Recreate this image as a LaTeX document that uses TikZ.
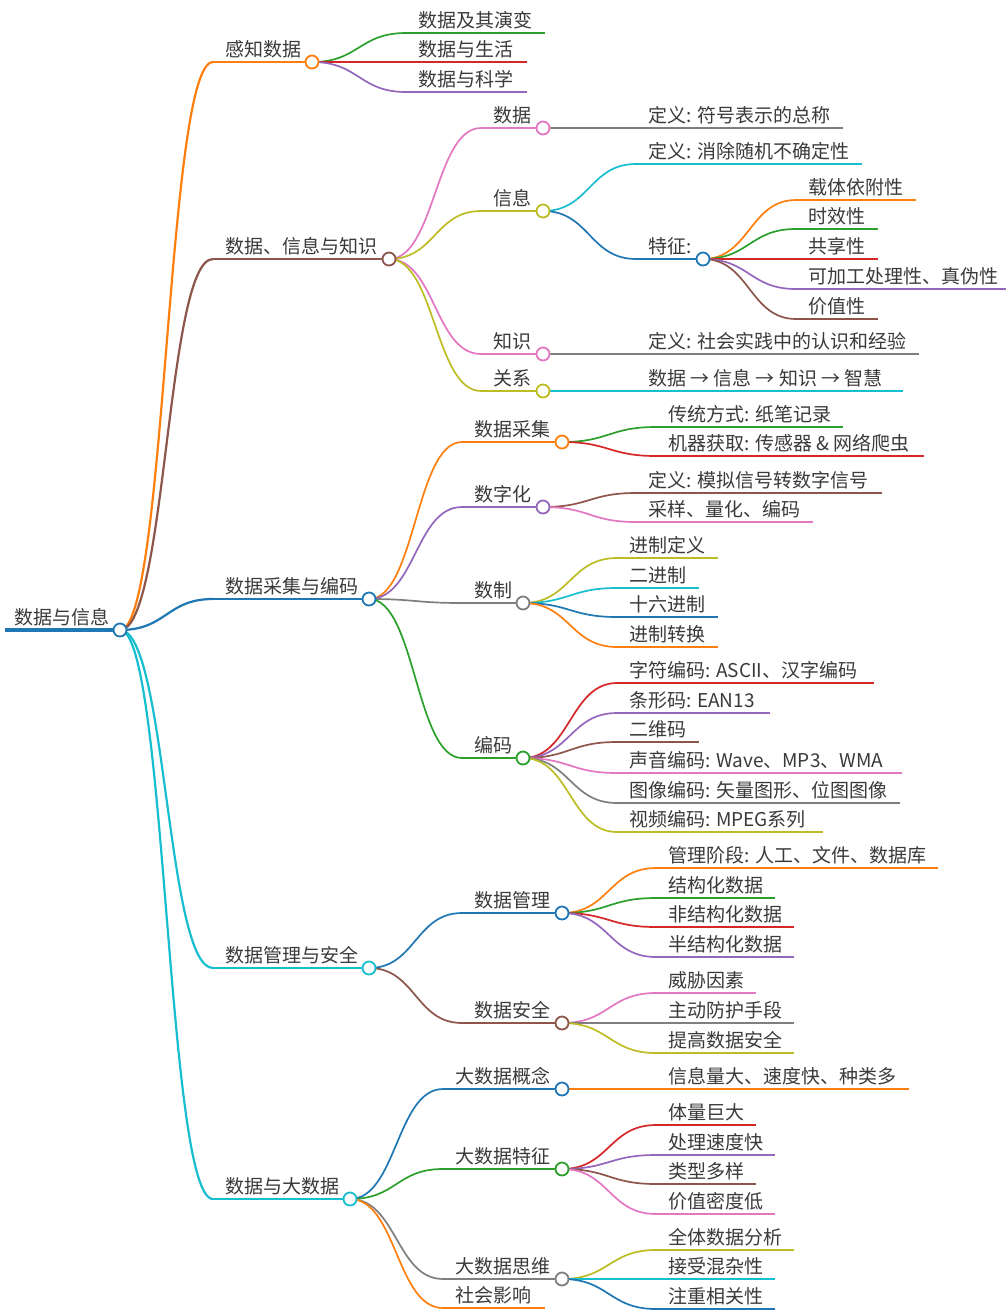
\documentclass[tikz,border=0pt]{standalone}
\usepackage{fontspec}
\setmainfont{Noto Sans CJK SC}
\usetikzlibrary{calc}
\definecolor{cblue}{HTML}{1F77B4}
\definecolor{corange}{HTML}{FF7F0E}
\definecolor{cgreen}{HTML}{2CA02C}
\definecolor{cred}{HTML}{D62728}
\definecolor{cpurple}{HTML}{9467BD}
\definecolor{cbrown}{HTML}{8C564B}
\definecolor{cpink}{HTML}{E377C2}
\definecolor{cgray}{HTML}{7F7F7F}
\definecolor{colive}{HTML}{BCBD22}
\definecolor{ccyan}{HTML}{17BECF}
\definecolor{ctext}{HTML}{3A3A3A}
\tikzset{
  mmlbl/.style={anchor=base west, inner sep=0pt, text=ctext, font=\fontsize{19}{22}\selectfont},
  dotsty/.style={circle, fill=white, minimum size=13pt, inner sep=0pt, line width=1.8pt},
}
% name, xs, xe, y, colour, text, line width
\newcommand\mmnode[7]{%
  \coordinate (#1-in) at (#2,#4);
  \coordinate (#1-out) at (#3,#4);
  \draw[draw=#5, line width=#7] (#1-in) -- (#1-out);
  \node[mmlbl] (#1) at (#2+12,#4-5.5) {#6};
}
% from, to, colour, width
\newcommand\mmlink[4]{%
  \draw[draw=#3, line width=#4] let \p1=(#1-out), \p2=(#2-in) in
    (\p1) .. controls ({(\x1+\x2)/2},\y1) and ({(\x1+\x2)/2},\y2) .. (\p2);
}
\newcommand\mmdot[2]{\node[dotsty, draw=#2] (#1-dot) at (#1-out) {};}
\begin{document}
\begin{tikzpicture}[x=1pt, y=-1pt]
\fill[white] (0,0) rectangle (1006,1310);
\useasboundingbox (0,0) rectangle (1006,1310);

% root
\coordinate (root-in) at (5,630);
\coordinate (root-out) at (120,630);
\draw[draw=cblue, line width=4.5pt] (root-in) -- (root-out);
\node[mmlbl] (root) at (14,624.5) {数据与信息};

% level 1
\mmnode{s1}{213}{312}{62}{corange}{感知数据}{2pt}
\mmnode{s2}{213}{389}{259}{cbrown}{数据、信息与知识}{2pt}
\mmnode{s3}{213}{369}{599}{cblue}{数据采集与编码}{2pt}
\mmnode{s4}{213}{369}{968}{ccyan}{数据管理与安全}{2pt}
\mmnode{s5}{213}{350}{1199}{ccyan}{数据与大数据}{2pt}

% section 1
\mmnode{a1}{406}{545}{33}{cgreen}{数据及其演变}{1.7pt}
\mmnode{a2}{406}{527}{62}{cred}{数据与生活}{1.7pt}
\mmnode{a3}{406}{527}{92}{cpurple}{数据与科学}{1.7pt}

% section 2
\mmnode{b1}{481}{543}{128}{cpink}{数据}{1.7pt}
\mmnode{b2}{481}{543}{211}{colive}{信息}{1.7pt}
\mmnode{b3}{481}{543}{354}{cpink}{知识}{1.7pt}
\mmnode{b4}{481}{543}{391}{colive}{关系}{1.7pt}
\mmnode{b1a}{636}{843}{128}{cgray}{定义: 符号表示的总称}{1.7pt}
\mmnode{b2a}{636}{862}{164}{ccyan}{定义: 消除随机不确定性}{1.7pt}
\mmnode{b2b}{636}{703}{259}{cblue}{特征:}{1.7pt}
\mmnode{c1}{796}{916}{200}{corange}{载体依附性}{1.7pt}
\mmnode{c2}{796}{878}{229}{cgreen}{时效性}{1.7pt}
\mmnode{c3}{796}{878}{259}{cred}{共享性}{1.7pt}
\mmnode{c4}{796}{1006}{289}{cpurple}{可加工处理性、真伪性}{1.7pt}
\mmnode{c5}{796}{878}{319}{cbrown}{价值性}{1.7pt}
\mmnode{b3a}{636}{919}{354}{cgray}{定义: 社会实践中的认识和经验}{1.7pt}
\mmnode{b4a}{636}{903}{391}{ccyan}{数据 → 信息 → 知识 → 智慧}{1.7pt}

% section 3
\mmnode{d1}{462}{562}{442}{corange}{数据采集}{1.7pt}
\mmnode{d2}{462}{543}{507}{cpurple}{数字化}{1.7pt}
\mmnode{d3}{462}{523}{603}{cgray}{数制}{1.7pt}
\mmnode{d4}{462}{523}{758}{cgreen}{编码}{1.7pt}
\mmnode{d1a}{656}{843}{427}{cgreen}{传统方式: 纸笔记录}{1.7pt}
\mmnode{d1b}{656}{924}{456}{cred}{机器获取: 传感器 \& 网络爬虫}{1.7pt}
\mmnode{d2a}{636}{882}{493}{cbrown}{定义: 模拟信号转数字信号}{1.7pt}
\mmnode{d2b}{636}{813}{522}{cpink}{采样、量化、编码}{1.7pt}
\mmnode{d3a}{617}{718}{558}{colive}{进制定义}{1.7pt}
\mmnode{d3b}{617}{699}{588}{ccyan}{二进制}{1.7pt}
\mmnode{d3c}{617}{718}{617}{cblue}{十六进制}{1.7pt}
\mmnode{d3d}{617}{718}{647}{corange}{进制转换}{1.7pt}
\mmnode{d4a}{617}{874}{683}{cred}{字符编码: ASCII、汉字编码}{1.7pt}
\mmnode{d4b}{617}{770}{713}{cpurple}{条形码: EAN13}{1.7pt}
\mmnode{d4c}{617}{699}{742}{cbrown}{二维码}{1.7pt}
\mmnode{d4d}{617}{902}{773}{cpink}{声音编码: Wave、MP3、WMA}{1.7pt}
\mmnode{d4e}{617}{900}{803}{cgray}{图像编码: 矢量图形、位图图像}{1.7pt}
\mmnode{d4f}{617}{823}{832}{colive}{视频编码: MPEG系列}{1.7pt}

% section 4
\mmnode{e1}{462}{562}{913}{cblue}{数据管理}{1.7pt}
\mmnode{e2}{462}{562}{1023}{cbrown}{数据安全}{1.7pt}
\mmnode{e1a}{656}{938}{868}{corange}{管理阶段: 人工、文件、数据库}{1.7pt}
\mmnode{e1b}{656}{775}{898}{cgreen}{结构化数据}{1.7pt}
\mmnode{e1c}{656}{794}{927}{cred}{非结构化数据}{1.7pt}
\mmnode{e1d}{656}{794}{957}{cpurple}{半结构化数据}{1.7pt}
\mmnode{e2a}{656}{756}{993}{cpink}{威胁因素}{1.7pt}
\mmnode{e2b}{656}{794}{1023}{cgray}{主动防护手段}{1.7pt}
\mmnode{e2c}{656}{794}{1053}{colive}{提高数据安全}{1.7pt}

% section 5
\mmnode{f1}{443}{562}{1089}{cblue}{大数据概念}{1.7pt}
\mmnode{f2}{443}{562}{1169}{cgreen}{大数据特征}{1.7pt}
\mmnode{f3}{443}{562}{1279}{cgray}{大数据思维}{1.7pt}
\mmnode{f4}{443}{545}{1308}{corange}{社会影响}{1.7pt}
\mmnode{f1a}{656}{909}{1089}{corange}{信息量大、速度快、种类多}{1.7pt}
\mmnode{f2a}{656}{756}{1125}{cred}{体量巨大}{1.7pt}
\mmnode{f2b}{656}{775}{1155}{cpurple}{处理速度快}{1.7pt}
\mmnode{f2c}{656}{756}{1184}{cbrown}{类型多样}{1.7pt}
\mmnode{f2d}{656}{775}{1214}{cpink}{价值密度低}{1.7pt}
\mmnode{f3a}{656}{794}{1250}{colive}{全体数据分析}{1.7pt}
\mmnode{f3b}{656}{775}{1279}{ccyan}{接受混杂性}{1.7pt}
\mmnode{f3c}{656}{775}{1309}{cblue}{注重相关性}{1.7pt}

% links
\mmlink{root}{s1}{corange}{2.2pt}
\mmlink{root}{s2}{cbrown}{2.2pt}
\mmlink{root}{s3}{cblue}{2.2pt}
\mmlink{root}{s4}{ccyan}{2.2pt}
\mmlink{root}{s5}{ccyan}{2.2pt}
\mmlink{s1}{a1}{cgreen}{1.7pt}
\mmlink{s1}{a2}{cred}{1.7pt}
\mmlink{s1}{a3}{cpurple}{1.7pt}
\mmlink{s2}{b1}{cpink}{1.7pt}
\mmlink{s2}{b2}{colive}{1.7pt}
\mmlink{s2}{b3}{cpink}{1.7pt}
\mmlink{s2}{b4}{colive}{1.7pt}
\mmlink{b1}{b1a}{cgray}{1.7pt}
\mmlink{b2}{b2a}{ccyan}{1.7pt}
\mmlink{b2}{b2b}{cblue}{1.7pt}
\mmlink{b2b}{c1}{corange}{1.7pt}
\mmlink{b2b}{c2}{cgreen}{1.7pt}
\mmlink{b2b}{c3}{cred}{1.7pt}
\mmlink{b2b}{c4}{cpurple}{1.7pt}
\mmlink{b2b}{c5}{cbrown}{1.7pt}
\mmlink{b3}{b3a}{cgray}{1.7pt}
\mmlink{b4}{b4a}{ccyan}{1.7pt}
\mmlink{s3}{d1}{corange}{1.7pt}
\mmlink{s3}{d2}{cpurple}{1.7pt}
\mmlink{s3}{d3}{cgray}{1.7pt}
\mmlink{s3}{d4}{cgreen}{1.7pt}
\mmlink{d1}{d1a}{cgreen}{1.7pt}
\mmlink{d1}{d1b}{cred}{1.7pt}
\mmlink{d2}{d2a}{cbrown}{1.7pt}
\mmlink{d2}{d2b}{cpink}{1.7pt}
\mmlink{d3}{d3a}{colive}{1.7pt}
\mmlink{d3}{d3b}{ccyan}{1.7pt}
\mmlink{d3}{d3c}{cblue}{1.7pt}
\mmlink{d3}{d3d}{corange}{1.7pt}
\mmlink{d4}{d4a}{cred}{1.7pt}
\mmlink{d4}{d4b}{cpurple}{1.7pt}
\mmlink{d4}{d4c}{cbrown}{1.7pt}
\mmlink{d4}{d4d}{cpink}{1.7pt}
\mmlink{d4}{d4e}{cgray}{1.7pt}
\mmlink{d4}{d4f}{colive}{1.7pt}
\mmlink{s4}{e1}{cblue}{1.7pt}
\mmlink{s4}{e2}{cbrown}{1.7pt}
\mmlink{e1}{e1a}{corange}{1.7pt}
\mmlink{e1}{e1b}{cgreen}{1.7pt}
\mmlink{e1}{e1c}{cred}{1.7pt}
\mmlink{e1}{e1d}{cpurple}{1.7pt}
\mmlink{e2}{e2a}{cpink}{1.7pt}
\mmlink{e2}{e2b}{cgray}{1.7pt}
\mmlink{e2}{e2c}{colive}{1.7pt}
\mmlink{s5}{f1}{cblue}{1.7pt}
\mmlink{s5}{f2}{cgreen}{1.7pt}
\mmlink{s5}{f3}{cgray}{1.7pt}
\mmlink{s5}{f4}{corange}{1.7pt}
\mmlink{f1}{f1a}{corange}{1.7pt}
\mmlink{f2}{f2a}{cred}{1.7pt}
\mmlink{f2}{f2b}{cpurple}{1.7pt}
\mmlink{f2}{f2c}{cbrown}{1.7pt}
\mmlink{f2}{f2d}{cpink}{1.7pt}
\mmlink{f3}{f3a}{colive}{1.7pt}
\mmlink{f3}{f3b}{ccyan}{1.7pt}
\mmlink{f3}{f3c}{cblue}{1.7pt}

% circles
\mmdot{root}{cblue}
\mmdot{s1}{corange}
\mmdot{s2}{cbrown}
\mmdot{s3}{cblue}
\mmdot{s4}{ccyan}
\mmdot{s5}{ccyan}
\mmdot{b1}{cpink}
\mmdot{b2}{colive}
\mmdot{b3}{cpink}
\mmdot{b4}{colive}
\mmdot{b2b}{cblue}
\mmdot{d1}{corange}
\mmdot{d2}{cpurple}
\mmdot{d3}{cgray}
\mmdot{d4}{cgreen}
\mmdot{e1}{cblue}
\mmdot{e2}{cbrown}
\mmdot{f1}{cblue}
\mmdot{f2}{cgreen}
\mmdot{f3}{cgray}
\end{tikzpicture}
\end{document}
